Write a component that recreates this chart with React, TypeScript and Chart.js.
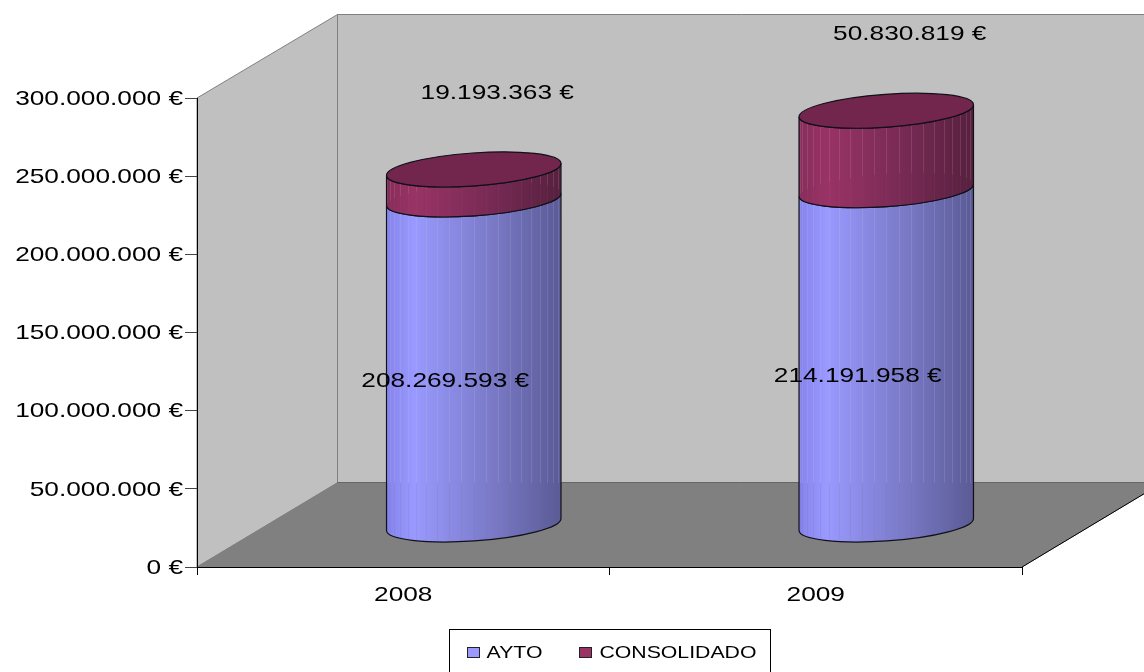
import React, { useEffect, useRef } from "react";
import { Chart, registerables } from "chart.js";

Chart.register(...registerables);

const categories = ["2008", "2009"];
const aytoValues = [208269593, 214191958];
const consolidadoValues = [19193363, 50830819];
const seriesNames = ["AYTO", "CONSOLIDADO"];
const axisMax = 300000000;
const axisStep = 50000000;

const BLUE = "#9999FF";
const MAROON = "#993366";
const FONT = "'Liberation Sans', Arial, sans-serif";
const TEXT_STRETCH = 1.25;
const DEPTH_X = 140;
const DEPTH_Y = 84;

const euro = (v: number) =>
  String(Math.round(v)).replace(/\B(?=(\d{3})+(?!\d))/g, ".") + " €";

function polygon(ctx: CanvasRenderingContext2D, pts: number[][], fill: string, stroke: string) {
  ctx.beginPath();
  pts.forEach((p, i) => (i ? ctx.lineTo(p[0], p[1]) : ctx.moveTo(p[0], p[1])));
  ctx.closePath();
  ctx.fillStyle = fill;
  ctx.fill();
  ctx.strokeStyle = stroke;
  ctx.lineWidth = 1;
  ctx.stroke();
}

const wallsPlugin = {
  id: "walls",
  beforeDraw(chart: any) {
    const { ctx, chartArea: a, width } = chart;
    const bx = a.left + DEPTH_X;
    const by = a.bottom - DEPTH_Y;
    const ty = a.top - DEPTH_Y;
    const floorEndY = a.bottom - ((width - a.right) * DEPTH_Y) / DEPTH_X;
    ctx.save();
    polygon(ctx, [[bx + 0.5, ty + 0.5], [width + 5, ty + 0.5], [width + 5, by], [bx + 0.5, by]], "#C0C0C0", "#808080");
    polygon(ctx, [[a.left, a.top], [bx + 0.5, ty + 0.5], [bx + 0.5, by], [a.left, a.bottom]], "#C0C0C0", "#808080");
    polygon(ctx, [[a.left, a.bottom], [bx, by], [width + 5, by], [width + 5, floorEndY - 3], [a.right, a.bottom]], "#808080", "#808080");
    ctx.strokeStyle = "#666666";
    ctx.beginPath();
    ctx.moveTo(bx, by - 0.5);
    ctx.lineTo(width, by - 0.5);
    ctx.stroke();
    ctx.strokeStyle = "#000000";
    ctx.beginPath();
    ctx.moveTo(a.right, a.bottom);
    ctx.lineTo(width, floorEndY);
    ctx.stroke();
    ctx.restore();
  },
};

const TILT = -0.071;
const ECC = 0.094;
const T0 = Math.atan(ECC * Math.tan(-TILT));
const SEAM_COUNT = 22;

function sidePath(ctx: CanvasRenderingContext2D, cx: number, yTop: number, yBot: number, a: number, b: number) {
  ctx.beginPath();
  ctx.ellipse(cx, yTop, a, b, TILT, T0, T0 + Math.PI, false);
  ctx.ellipse(cx, yBot, a, b, TILT, T0 + Math.PI, T0, true);
  ctx.closePath();
}

// y on the far arc of a tilted ellipse at horizontal offset dx from its centre
function backArcY(cy: number, dx: number, a: number, b: number) {
  const s = Math.sin(TILT);
  const c = Math.cos(TILT);
  const A = a * c;
  const B = -b * s;
  const R = Math.hypot(A, B);
  const phi = Math.atan2(B, A);
  const t = -Math.acos(Math.max(-1, Math.min(1, dx / R))) - phi;
  return cy + a * Math.cos(t) * s + b * Math.sin(t) * c;
}

function drawSegment(
  ctx: CanvasRenderingContext2D,
  cx: number,
  yTop: number,
  yBot: number,
  a: number,
  b: number,
  stops: string[],
  seam: (x: number) => { split: number; upper: string; lower: string },
) {
  const left = cx - a;
  const grad = ctx.createLinearGradient(left, 0, cx + a, 0);
  [0, 0.03, 0.16, 0.6, 1].forEach((p, i) => grad.addColorStop(p, stops[i]));
  sidePath(ctx, cx, yTop, yBot, a, b);
  ctx.fillStyle = grad;
  ctx.fill();

  ctx.save();
  sidePath(ctx, cx, yTop, yBot, a, b);
  ctx.clip();
  ctx.lineWidth = 1;
  for (let k = 1; k < SEAM_COUNT; k++) {
    const x = Math.round(left + ((1 - Math.cos((k * Math.PI) / SEAM_COUNT)) / 2) * 2 * a) + 0.5;
    const s = seam(x);
    ctx.strokeStyle = s.upper;
    ctx.beginPath();
    ctx.moveTo(x, yTop - b - 10);
    ctx.lineTo(x, s.split);
    ctx.stroke();
    ctx.strokeStyle = s.lower;
    ctx.beginPath();
    ctx.moveTo(x, s.split);
    ctx.lineTo(x, yBot + b + 10);
    ctx.stroke();
  }
  ctx.restore();

  sidePath(ctx, cx, yTop, yBot, a, b);
  ctx.strokeStyle = "#101018";
  ctx.lineWidth = 1.2;
  ctx.stroke();
}

const cylinderPlugin = {
  id: "cylinders",
  beforeDatasetDraw() {
    return false;
  },
  afterDatasetsDraw(chart: any) {
    const { ctx, chartArea: area } = chart;
    const lower = chart.getDatasetMeta(0).data;
    const upper = chart.getDatasetMeta(1).data;
    const dx = DEPTH_X / 2 + 0.5;
    const dy = DEPTH_Y / 2;
    const wallFloorY = area.bottom - DEPTH_Y;
    ctx.save();
    lower.forEach((bar: any, i: number) => {
      const top = upper[i];
      const cx = bar.x + dx;
      const a = bar.width / 2;
      const b = bar.width * ECC;
      const y0 = bar.base - dy;
      const y1 = bar.y - dy;
      const y2 = top.y - dy;
      drawSegment(ctx, cx, y1, y0, a, b, ["#8080E8", "#8888F0", "#9999FF", "#7A7AC8", "#5A5A96"], () => ({
        split: wallFloorY,
        upper: "rgba(205,205,225,0.16)",
        lower: "rgba(110,110,130,0.14)",
      }));
      drawSegment(ctx, cx, y2, y1, a, b, ["#842C59", "#8A2E5C", "#993366", "#772A54", "#57203E"], (x) => ({
        split: backArcY(y1, x - cx, a, b),
        upper: "rgba(205,170,190,0.18)",
        lower: "rgba(150,120,190,0.08)",
      }));
      ctx.beginPath();
      ctx.ellipse(cx, y2, a, b, TILT, 0, Math.PI * 2);
      ctx.fillStyle = "#73264D";
      ctx.fill();
      ctx.strokeStyle = "#101018";
      ctx.lineWidth = 1.2;
      ctx.stroke();
    });

    ctx.font = `21px ${FONT}`;
    ctx.fillStyle = "#000000";
    ctx.textAlign = "center";
    ctx.textBaseline = "middle";
    lower.forEach((bar: any, i: number) => {
      const top = upper[i];
      const cx = bar.x + dx;
      ctx.fillText(euro(aytoValues[i]), cx - 28.5, (bar.y + bar.base) / 2 - dy + 18);
      ctx.fillText(euro(consolidadoValues[i]), cx + 23.5, top.y - dy - 77);
    });
    ctx.restore();
  },
  afterDraw(chart: any) {
    const { ctx, chartArea: a, height } = chart;
    const colors = [BLUE, MAROON];
    const mid = (a.left + a.right) / 2;
    ctx.save();
    ctx.strokeStyle = "#000000";
    ctx.lineWidth = 1;
    ctx.strokeRect(449.5, 629.5, 321, height - 629 + 5);
    ctx.font = `17px ${FONT}`;
    const widths = seriesNames.map((n) => ctx.measureText(n).width * TEXT_STRETCH);
    const total = widths.reduce((s, w) => s + w + 20, 37);
    let x = mid + 2 - total / 2;
    ctx.textAlign = "left";
    ctx.textBaseline = "middle";
    seriesNames.forEach((n, i) => {
      ctx.fillStyle = colors[i];
      ctx.fillRect(Math.round(x) + 0.5, 647.5, 12, 10);
      ctx.strokeStyle = "#222222";
      ctx.strokeRect(Math.round(x) + 0.5, 647.5, 12, 10);
      ctx.fillStyle = "#000000";
      ctx.fillText(n, x + 20, 652);
      x += 20 + widths[i] + 37;
    });
    ctx.restore();
  },
};

export default function App() {
  const ref = useRef<HTMLCanvasElement | null>(null);
  useEffect(() => {
    const canvas = ref.current!;
    const c2d = canvas.getContext("2d")! as any;
    const baseFillText = c2d.fillText.bind(c2d);
    // The reference's text is horizontally stretched.
    c2d.fillText = (t: string, x: number, y: number) => {
      c2d.save();
      c2d.translate(x, y + 1);
      c2d.scale(TEXT_STRETCH, 1);
      baseFillText(t, 0, 0);
      c2d.restore();
    };
    const chart = new Chart(canvas, {
      type: "bar",
      data: {
        labels: categories,
        datasets: [
          { label: seriesNames[0], data: aytoValues, backgroundColor: BLUE },
          { label: seriesNames[1], data: consolidadoValues, backgroundColor: MAROON },
        ],
      },
      options: {
        animation: false,
        responsive: false,
        devicePixelRatio: 1,
        layout: { padding: { left: 0, top: 98, right: 122, bottom: 0 } },
        datasets: { bar: { categoryPercentage: 1, barPercentage: 0.424 } },
        plugins: { legend: { display: false }, tooltip: { enabled: false }, title: { display: false } },
        scales: {
          x: {
            stacked: true,
            afterFit: (s: any) => {
              s.height = 105;
            },
            border: { color: "#000000", width: 1 },
            grid: { drawOnChartArea: false, drawTicks: true, tickLength: 8, color: "#000000" },
            ticks: { color: "#000000", padding: 7, font: { family: FONT, size: 21 }, maxRotation: 0 },
          },
          y: {
            stacked: true,
            min: 0,
            max: axisMax,
            afterFit: (s: any) => {
              s.width = 197;
            },
            border: { color: "#000000", width: 1 },
            grid: { drawOnChartArea: false, drawTicks: true, tickLength: 12, color: "#444444" },
            ticks: {
              stepSize: axisStep,
              color: "#000000",
              padding: 2,
              font: { family: FONT, size: 21 },
              callback: (v: any) => euro(Number(v)),
            },
          },
        },
      },
      plugins: [wallsPlugin, cylinderPlugin],
    } as any);
    return () => chart.destroy();
  }, []);
  return (
    <div style={{ position: "absolute", left: 0, top: 0, width: 1144, height: 672, overflow: "hidden", background: "#fff" }}>
      <canvas ref={ref} width={1144} height={672} style={{ display: "block" }} />
    </div>
  );
}
